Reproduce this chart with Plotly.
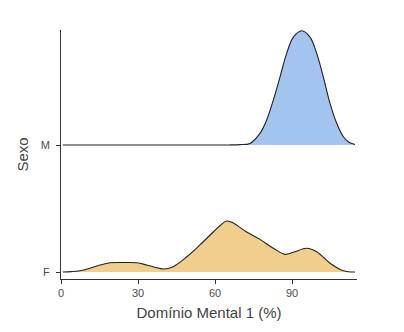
import plotly.graph_objects as go

categories = ["F", "M"]
x_ticks = [0, 30, 60, 90]

f_x = [0.7, 4, 7.4, 11, 15.2, 19.1, 24, 29.5, 33.4, 36.5, 39.9, 43.7, 49, 54.1, 59.3, 62,
       64.5, 67.1, 72.3, 77.5, 82.7, 87.3, 90.5, 95.7, 99.6, 104.8, 110, 114.5]
f_h = [0, 0.003, 0.010, 0.028, 0.055, 0.073, 0.075, 0.073, 0.055, 0.038, 0.024, 0.042,
       0.120, 0.213, 0.315, 0.366, 0.402, 0.386, 0.315, 0.257, 0.187, 0.139, 0.155, 0.187,
       0.160, 0.069, 0.010, 0]

m_x = [0.7, 20, 40, 60, 66, 69.7, 73.6, 77.5, 80.1, 82.7, 85.3, 87.9, 90.5, 93.8, 97,
       99.6, 102.2, 104.8, 107.4, 110, 112, 114.5]
m_h = [0, 0, 0, 0, 0.001, 0.003, 0.013, 0.092, 0.197, 0.354, 0.535, 0.722, 0.850, 0.900,
       0.850, 0.722, 0.535, 0.328, 0.171, 0.065, 0.024, 0.004]

fills = {"F": "#F2CE8C", "M": "#A4C4F0"}
series = {"F": (f_x, f_h), "M": (m_x, m_h)}

fig = go.Figure()
for i, cat in enumerate(categories):
    xs, hs = series[cat]
    fig.add_trace(go.Scatter(x=[xs[0], xs[-1]], y=[i, i], mode="lines",
                             line=dict(width=0), hoverinfo="skip", showlegend=False))
    fig.add_trace(go.Scatter(x=xs, y=[i + h for h in hs], mode="lines",
                             line=dict(color="#222222", width=1.1, shape="spline", smoothing=1),
                             fill="tonexty", fillcolor=fills[cat], showlegend=False))

fig.update_layout(
    width=404, height=332,
    margin=dict(l=61, r=47, t=30, b=53),
    paper_bgcolor="white", plot_bgcolor="white",
    font=dict(family="Liberation Sans, Arial, sans-serif", color="#4D4D4D"),
)
fig.update_xaxes(
    range=[0, 115.3], tickvals=x_ticks, ticktext=[str(v) for v in x_ticks],
    showgrid=False, zeroline=False, showline=True, linecolor="#333333", linewidth=1,
    ticks="outside", ticklen=4, tickcolor="#333333", tickfont=dict(size=11, color="#4D4D4D"),
    title=dict(text="Domínio Mental 1 (%)", font=dict(size=15, color="#444444"), standoff=9),
)
fig.update_yaxes(
    range=[-0.055, 1.906], tickvals=[0, 1], ticktext=categories,
    showgrid=False, zeroline=False, showline=True, linecolor="#333333", linewidth=1,
    ticks="outside", ticklen=4, tickcolor="#333333", tickfont=dict(size=11, color="#4D4D4D"),
    ticklabelstandoff=4,
    title=dict(text="Sexo", font=dict(size=15, color="#444444"), standoff=8),
)

fig.write_html("out.html")
